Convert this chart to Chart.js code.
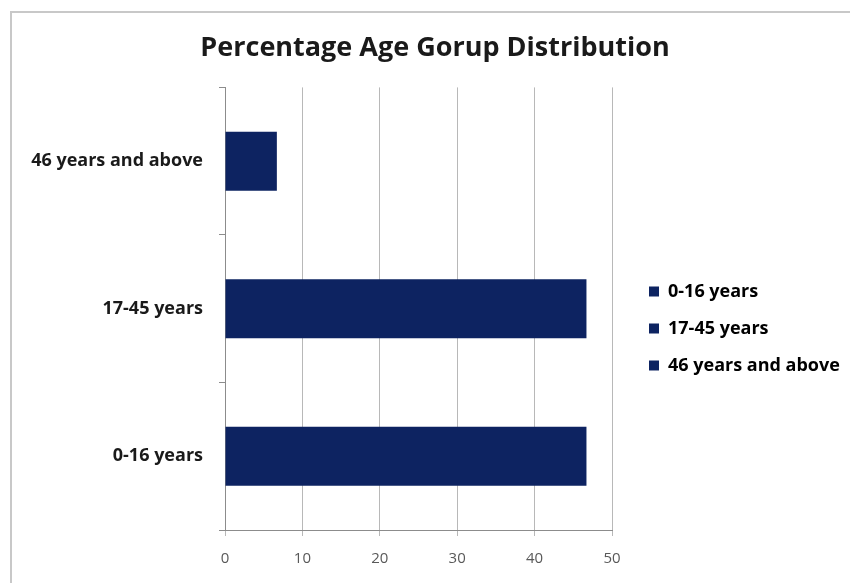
<!DOCTYPE html>
<html>
<head>
<meta charset="utf-8">
<script src="https://cdn.jsdelivr.net/npm/chart.js@4"></script>
<style>
html,body{margin:0;padding:0;background:#fff;}
#wrap{position:absolute;left:0;top:0;width:850px;height:583px;}
</style>
</head>
<body>
<div id="wrap"><canvas id="c" width="850" height="583"></canvas></div>
<script>
const categories = ['0-16 years', '17-45 years', '46 years and above'];
const values = [46.7, 46.7, 6.7];
const xTicks = [0, 10, 20, 30, 40, 50];
const titleText = 'Percentage Age Gorup Distribution';
const barColor = '#0d2361';
const FONT = '"Open Sans", Lato, sans-serif';

const framePlugin = {
  id: 'frame',
  beforeDraw(chart) {
    const ctx = chart.ctx;
    ctx.save();
    ctx.fillStyle = '#fff';
    ctx.fillRect(0, 0, chart.width, chart.height);
    ctx.strokeStyle = '#c8c8c8';
    ctx.lineWidth = 2;
    ctx.beginPath();
    ctx.moveTo(11, chart.height);
    ctx.lineTo(11, 12);
    ctx.lineTo(chart.width, 12);
    ctx.stroke();
    ctx.restore();
  }
};

const legendFit = {
  id: 'legendFit',
  beforeLayout(chart) {
    const l = chart.legend;
    if (l && !l._fixedWidth) {
      const f = l.fit;
      l.fit = function () { f.call(this); this.width = 233; };
      l._fixedWidth = true;
    }
  },
  afterLayout(chart) {
    const l = chart.legend;
    if (!l) return;
    l.left += 18; l.right += 18;
    l.top += 37; l.bottom += 37;
  }
};

new Chart(document.getElementById('c'), {
  type: 'bar',
  data: {
    labels: categories,
    datasets: [{
      label: 'Percentage',
      data: values,
      backgroundColor: barColor,
      borderWidth: 0,
      categoryPercentage: 1,
      barPercentage: 0.4
    }]
  },
  options: {
    indexAxis: 'y',
    responsive: false,
    animation: false,
    devicePixelRatio: 1,
    layout: { padding: { left: 25, right: 5, top: 0, bottom: 0 } },
    plugins: {
      title: {
        display: true,
        text: titleText,
        color: '#1a1a1a',
        font: { family: FONT, size: 27, weight: 'bold' },
        padding: { top: 32, bottom: 23 }
      },
      legend: {
        display: true,
        position: 'right',
        labels: {
          boxWidth: 10,
          boxHeight: 10,
          padding: 19,
          color: '#1a1a1a',
          font: { family: FONT, size: 18, weight: 'bold' },
          generateLabels() {
            return categories.map((c, i) => ({
              text: c,
              fillStyle: barColor,
              strokeStyle: barColor,
              lineWidth: 0,
              hidden: false,
              index: i,
              datasetIndex: 0
            }));
          }
        }
      },
      tooltip: { enabled: false }
    },
    scales: {
      y: {
        reverse: true,
        afterFit(scale) { scale.width = 200; },
        grid: { drawOnChartArea: false, drawTicks: true, tickLength: 6, color: '#8c8c8c', offset: true },
        border: { display: true, color: '#8c8c8c', width: 1 },
        ticks: {
          padding: 16,
          color: '#1a1a1a',
          font: { family: FONT, size: 18, weight: 'bold' }
        }
      },
      x: {
        min: 0,
        max: 50,
        afterFit(scale) { scale.height = 53; },
        afterBuildTicks(scale) { scale.ticks = xTicks.map(v => ({ value: v })); },
        grid: { color: '#b8b8b8', tickLength: 6, drawTicks: true },
        border: { display: true, color: '#8c8c8c', width: 1 },
        ticks: {
          padding: 14,
          color: '#595959',
          font: { family: FONT, size: 15 }
        }
      }
    }
  },
  plugins: [framePlugin, legendFit]
});
</script>
</body>
</html>
